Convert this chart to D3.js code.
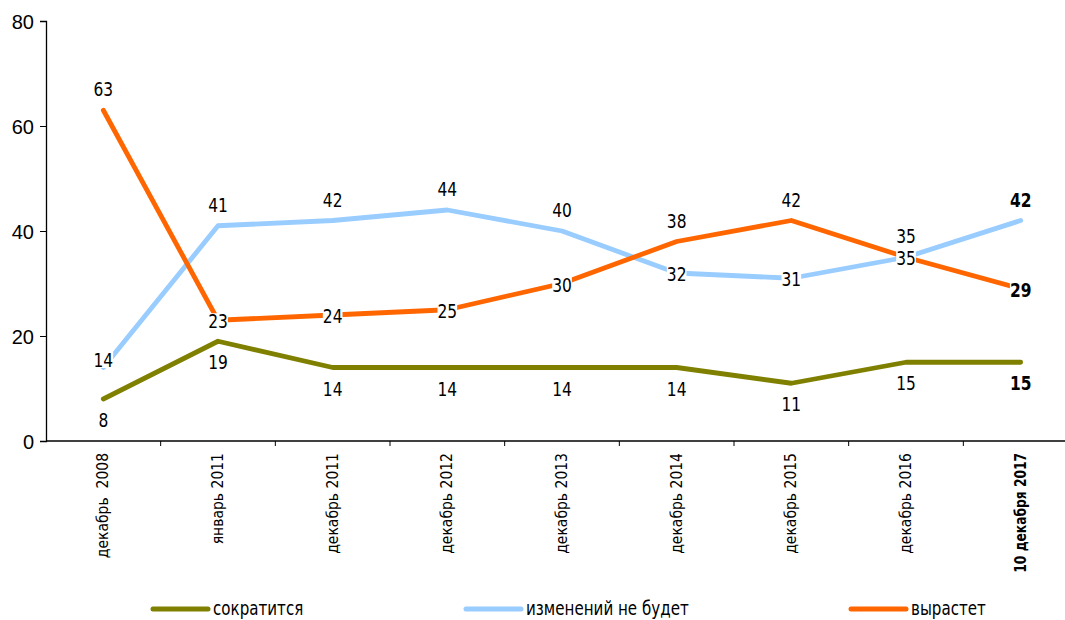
<!DOCTYPE html>
<html>
<head>
<meta charset="utf-8">
<script src="https://cdn.jsdelivr.net/npm/d3@7/dist/d3.min.js"></script>
<style>
  html, body { margin: 0; padding: 0; background: #fff; }
  svg { display: block; font-family: "DejaVu Sans Condensed", "Liberation Sans Narrow", sans-serif; }
</style>
</head>
<body>
<svg id="chart" width="1065" height="620"></svg>
<script>
// Survey waves
const categories = ["декабрь  2008", "январь 2011", "декабрь 2011", "декабрь 2012", "декабрь 2013",
                    "декабрь 2014", "декабрь 2015", "декабрь 2016", "10 декабря 2017"];
// Answer shares, %
const shrink = [8, 19, 14, 14, 14, 14, 11, 15, 15];        // сократится
const noChange = [14, 41, 42, 44, 40, 32, 31, 35, 42];     // изменений не будет
const grow = [63, 23, 24, 25, 30, 38, 42, 35, 29];         // вырастет
// Where each value label sits relative to its point
const shrinkPos = ["below", "below", "below", "below", "below", "below", "below", "below", "below"];
const noChangePos = ["near", "above", "above", "above", "above", "on", "on", "on", "above"];
const growPos = ["above", "on", "on", "on", "on", "above", "above", "above", "on"];
const seriesNames = ["сократится", "изменений не будет", "вырастет"];
const yTicks = [0, 20, 40, 60, 80];

const series = [
  { name: seriesNames[0], values: shrink, pos: shrinkPos, color: "#808000" },
  { name: seriesNames[1], values: noChange, pos: noChangePos, color: "#99ccff" },
  { name: seriesNames[2], values: grow, pos: growPos, color: "#ff6600" }
];

const svg = d3.select("#chart");
const plotLeft = 46, plotTop = 21, plotBottom = 441, plotRight = 1078;

const x = d3.scaleBand().domain(categories).range([plotLeft, plotRight]).padding(0);
const y = d3.scaleLinear().domain([0, 80]).range([plotBottom, plotTop]);
const cx = c => x(c) + x.bandwidth() / 2;

// Y axis
const yAxis = svg.append("g").attr("transform", `translate(${plotLeft},0)`)
  .call(d3.axisLeft(y).tickValues(yTicks).tickSize(6).tickPadding(6));
yAxis.select(".domain").attr("stroke", "#000").attr("stroke-width", 1.3);
yAxis.selectAll(".tick line").attr("stroke", "#000");
yAxis.selectAll(".tick text").attr("font-size", 20).attr("fill", "#000").attr("dy", "0.36em");

// X axis: ticks between categories
const xAxisG = svg.append("g").attr("transform", `translate(0,${plotBottom})`);
xAxisG.append("line").attr("x1", plotLeft).attr("x2", plotRight).attr("stroke", "#000").attr("stroke-width", 1.3);
xAxisG.selectAll("line.tk").data(categories.slice(1)).join("line").attr("class", "tk")
  .attr("x1", d => x(d)).attr("x2", d => x(d)).attr("y1", 0).attr("y2", 5).attr("stroke", "#000");
xAxisG.selectAll("text").data(categories).join("text")
  .attr("transform", (d, i) => `translate(${cx(d) + 5},${12}) rotate(-90)` +
        (i === categories.length - 1 ? " scale(0.88,1)" : ""))
  .attr("text-anchor", "end")
  .attr("font-size", 15.5)
  .attr("font-weight", (d, i) => i === categories.length - 1 ? "bold" : "normal")
  .attr("fill", "#000")
  .style("white-space", "pre")
  .text(d => d);

// Lines
const line = d3.line().x((d, i) => cx(categories[i])).y(d => y(d));
series.forEach(s => {
  svg.append("path").datum(s.values)
    .attr("d", line)
    .attr("fill", "none")
    .attr("stroke", s.color)
    .attr("stroke-width", 4.8)
    .attr("stroke-linejoin", "round")
    .attr("stroke-linecap", "round");
});

// Value labels with white backing
const offsets = { above: -21, below: 21, on: 1, near: -8 };
const labelLayer = svg.append("g");
series.forEach(s => {
  s.values.forEach((v, i) => {
    const last = i === categories.length - 1;
    const g = labelLayer.append("g")
      .attr("transform", `translate(${cx(categories[i])},${y(v) + offsets[s.pos[i]]}) scale(0.86,1)`);
    const t = g.append("text")
      .attr("text-anchor", "middle")
      .attr("dy", "0.36em")
      .attr("font-size", 20)
      .attr("font-weight", last ? "bold" : "normal")
      .attr("fill", "#000")
      .text(v);
    const b = t.node().getBBox();
    g.insert("rect", "text")
      .attr("x", b.x).attr("y", b.y + 3).attr("width", b.width).attr("height", b.height - 6)
      .attr("fill", "#fff");
  });
});

// Legend
const legendX = [153, 466, 851];
const legend = svg.append("g").attr("transform", "translate(0,609)");
series.forEach((s, i) => {
  legend.append("line").attr("x1", legendX[i]).attr("x2", legendX[i] + 55)
    .attr("stroke", s.color).attr("stroke-width", 5).attr("stroke-linecap", "round");
  legend.append("text")
    .attr("transform", `translate(${legendX[i] + 60},-1) scale(0.84,1)`)
    .attr("dy", "0.36em")
    .attr("font-size", 20).attr("fill", "#000").text(s.name);
});
</script>
</body>
</html>
